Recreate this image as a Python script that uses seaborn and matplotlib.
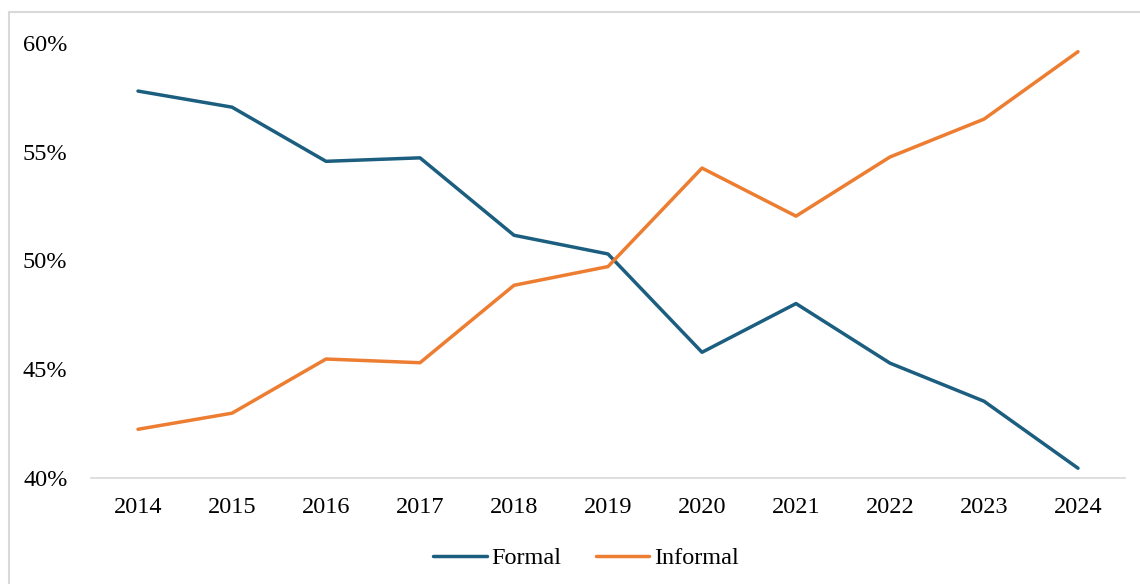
import matplotlib
matplotlib.use("Agg")
import matplotlib.pyplot as plt
import seaborn as sns
import pandas as pd
from matplotlib.patches import Rectangle
from matplotlib.ticker import FuncFormatter

years = [2014, 2015, 2016, 2017, 2018, 2019, 2020, 2021, 2022, 2023, 2024]
formal = [57.79, 57.05, 54.56, 54.72, 51.16, 50.30, 45.78, 48.02, 45.28, 43.53, 40.45]
informal = [42.24, 42.98, 45.47, 45.30, 48.86, 49.72, 54.25, 52.04, 54.76, 56.50, 59.60]
series_names = ["Formal", "Informal"]
colors = ["#1B5E80", "#ED7D31"]

df = pd.DataFrame({
    "year": years * 2,
    "value": formal + informal,
    "series": [series_names[0]] * len(years) + [series_names[1]] * len(years),
})

sns.set_theme(style="white")
plt.rcParams["font.family"] = ["Liberation Serif", "DejaVu Serif"]
plt.rcParams["text.color"] = "#000000"

fig = plt.figure(figsize=(11.4, 5.84), dpi=100)
ax = fig.add_axes([91 / 1140, 1 - 478 / 584, (1125 - 91) / 1140, (478 - 43) / 584])

sns.lineplot(data=df, x="year", y="value", hue="series", palette=colors,
             linewidth=2.5, ax=ax, legend=True)

ax.set_ylim(40, 60)
ax.set_xlim(years[0] - 0.5, years[-1] + 0.5)
ax.set_xticks(years)
ax.set_xticklabels([str(y) for y in years])
ax.set_yticks([40, 45, 50, 55, 60])
ax.yaxis.set_major_formatter(FuncFormatter(lambda v, p: f"{v:.0f}%"))
ax.set_xlabel("")
ax.set_ylabel("")
ax.tick_params(axis="both", length=0, labelsize=17.5, colors="#000000")
ax.tick_params(axis="y", pad=17)
ax.tick_params(axis="x", pad=14)
for s in ["top", "right", "left"]:
    ax.spines[s].set_visible(False)
ax.spines["bottom"].set_color("#D9D9D9")
ax.spines["bottom"].set_linewidth(1.2)
ax.grid(False)

handles, labels = ax.get_legend_handles_labels()
ax.get_legend().remove()
leg = fig.legend(handles, labels, loc="center", bbox_to_anchor=(586 / 1140, 1 - 558 / 584),
                 ncol=2, frameon=False, fontsize=17.5, handlelength=2.2, handletextpad=0.2,
                 columnspacing=1.4)
for t in leg.get_texts():
    t.set_color("#000000")

fig.patches.append(Rectangle((9 / 1140, -0.1), 1.2, 1 - 12 / 584 + 0.1,
                             transform=fig.transFigure, fill=False,
                             edgecolor="#D9D9D9", linewidth=1.5))

fig.savefig("out.png", dpi=100)
